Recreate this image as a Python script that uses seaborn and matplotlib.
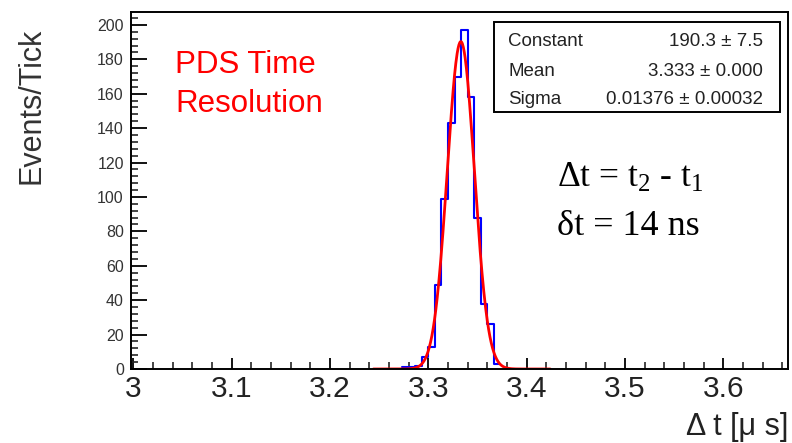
import numpy as np
import pandas as pd
import matplotlib
matplotlib.use("Agg")
import matplotlib.pyplot as plt
import seaborn as sns
from matplotlib.ticker import MultipleLocator, FuncFormatter
from matplotlib.patches import Rectangle

# binned PDS time differences (lower bin edges in us, last value is the upper edge)
bin_edges = [3.2735, 3.2801, 3.2868, 3.2934, 3.3001, 3.3067, 3.3133, 3.3200,
             3.3266, 3.3333, 3.3399, 3.3465, 3.3532, 3.3598, 3.3665, 3.3731]
bin_counts = [1, 1, 2, 7, 13, 49, 99, 143, 170, 197, 158, 88, 38, 26, 3]

# gaussian fit result (stat box)
fit_names = ["Constant", "Mean", "Sigma"]
fit_values = [190.3, 3.333, 0.01376]
fit_labels = ["190.3 \u00b1 7.5", "3.333 \u00b1 0.000", "0.01376 \u00b1 0.00032"]
fit_range = [3.244, 3.424]

W, H = 792, 443

sns.set_theme(style="white")
plt.rcParams["font.family"] = ["Liberation Sans", "DejaVu Sans"]
plt.rcParams["mathtext.fontset"] = "custom"
plt.rcParams["mathtext.rm"] = "Liberation Serif"
plt.rcParams["mathtext.it"] = "Liberation Serif:italic"

fig = plt.figure(figsize=(W / 100, H / 100), dpi=100)
ax = fig.add_axes([130.7 / W, 1 - 369 / H, (788.3 - 130.7) / W, (369 - 12) / H])


def fpos(x, y):
    """pixel position in the picture -> figure fraction"""
    return x / W, 1 - y / H


edges = np.array(bin_edges)
df = pd.DataFrame({"t": (edges[:-1] + edges[1:]) / 2, "n": bin_counts})
sns.histplot(data=df, x="t", weights="n", bins=bin_edges, element="step",
             fill=False, color="#0000ff", linewidth=1.5, ax=ax)

const, mean, sigma = fit_values
fx = np.linspace(fit_range[0], fit_range[1], 400)
fy = const * np.exp(-0.5 * ((fx - mean) / sigma) ** 2)
sns.lineplot(x=fx, y=fy, color="#ff0000", linewidth=2.0, ax=ax)

ax.set_xlim(2.9972, 3.6661)
ax.set_ylim(0, 207.5)
ax.set_xlabel("")
ax.set_ylabel("")

ax.xaxis.set_major_locator(MultipleLocator(0.1))
ax.xaxis.set_minor_locator(MultipleLocator(0.02))
ax.yaxis.set_major_locator(MultipleLocator(20))
ax.yaxis.set_minor_locator(MultipleLocator(4))
ax.xaxis.set_major_formatter(FuncFormatter(lambda v, p: f"{v:g}"))

ax.tick_params(axis="x", which="major", direction="in", length=8, width=1.3,
               labelsize=21.5, pad=4, colors="black", labelcolor="#222222")
ax.tick_params(axis="x", which="minor", direction="in", length=5, width=1.2)
ax.tick_params(axis="y", which="major", direction="in", length=11.5, width=1.3,
               labelsize=11.5, pad=5, colors="black", labelcolor="#333333")
ax.tick_params(axis="y", which="minor", direction="in", length=5, width=1.2)
ax.tick_params(bottom=True, left=True, top=False, right=False, which="both")

for s in ax.spines.values():
    s.set_color("black")
    s.set_linewidth(1.4)

# axis titles (ROOT style: aligned to the axis end)
fig.text(*fpos(32, 28), "Events/Tick", rotation=90, ha="center", va="top",
         fontsize=22, color="#333333")
fig.text(*fpos(788, 435), "\u0394 t [\u03bc s]", ha="right", va="baseline",
         fontsize=22, color="#222222")

# red label
fig.text(*fpos(175, 73), "PDS Time", ha="left", va="baseline",
         fontsize=22.5, color="#ff0000")
fig.text(*fpos(175, 112), "Resolution", ha="left", va="baseline",
         fontsize=22.5, color="#ff0000")

# formulas
fig.text(*fpos(557, 187), "\u0394t = t$_2$ - t$_1$", ha="left", va="baseline",
         fontsize=25.5, family="Liberation Serif", color="black")
fig.text(*fpos(557, 235), "\u03b4t = 14 ns", ha="left", va="baseline",
         fontsize=26, family="Liberation Serif", color="black")

# stat box
x0, y0 = fpos(494, 112)
x1, y1 = fpos(780, 22)
fig.patches.append(Rectangle((x0, y0), x1 - x0, y1 - y0, transform=fig.transFigure,
                             facecolor="white", edgecolor="black", linewidth=1.4,
                             zorder=5))
for name, lab, yb in zip(fit_names, fit_labels, [46.5, 76, 104]):
    fig.text(*fpos(508, yb), name, ha="left", va="baseline", fontsize=13.5,
             color="#222222", zorder=6)
    fig.text(*fpos(763, yb), lab, ha="right", va="baseline", fontsize=13.5,
             color="#222222", zorder=6)

fig.savefig("out.png", dpi=100)
